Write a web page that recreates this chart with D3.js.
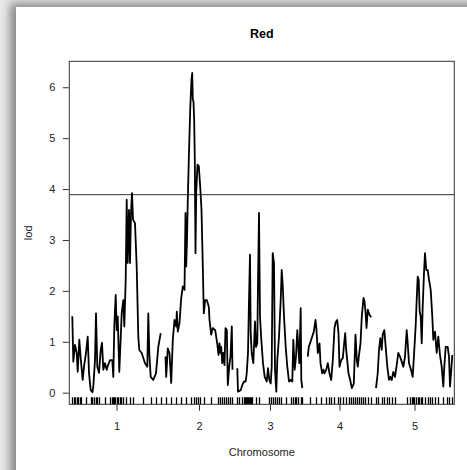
<!DOCTYPE html>
<html lang="en">
  <head>
    <meta charset="UTF-8" />
    <title>Red</title>
    <script src="https://d3js.org/d3.v7.min.js"></script>
    <style>
      body {
        margin: 0;
        width: 467px;
        height: 470px;
        overflow: hidden;
        background: #e9e9e9;
        font-family: "Liberation Sans", Arial, sans-serif;
      }

      .panel {
        position: absolute;
        left: 16px;
        top: 7px;
        width: 480px;
        height: 490px;
        background: #fff;
        box-shadow: -3px -1px 9px 3px rgba(0, 0, 0, 0.42);
      }

      #chart {
        position: absolute;
        left: 0;
        top: 0;
      }
    </style>
  </head>
  <body>
    <div class="panel"></div>
    <svg id="chart" width="467" height="470"></svg>

    <script>
      // LOD curve per chromosome: [position (cM), lod]
      const chr1 = [[0.3,1.50],[1.3,0.61],[3.0,0.94],[4.7,0.78],[5.7,0.41],[7.3,1.04],[8.7,0.68],[10.7,0.25],[12.0,0.51],[14.0,0.78],[15.7,1.10],[17.0,0.39],[18.7,0.05],[20.5,0.01],[21.3,0.12],[23.0,0.64],[24.0,1.56],[25.3,0.51],[27.0,0.39],[28.7,0.84],[30.0,0.98],[31.3,0.45],[33.0,0.58],[34.7,0.45],[36.0,0.54],[38.0,0.64],[40.3,0.64],[41.3,0.31],[42.3,1.30],[43.7,1.92],[44.7,1.23],[45.7,1.50],[47.3,0.41],[48.7,1.07],[49.7,1.56],[51.3,1.82],[52.3,1.30],[53.7,2.22],[54.7,3.79],[55.7,2.55],[57.0,3.59],[58.0,2.55],[59.0,3.53],[60.0,3.92],[61.0,3.40],[63.0,3.33],[64.7,2.48],[66.3,1.10],[67.3,0.84],[69.7,0.78],[73.0,0.58],[75.3,0.51],[76.3,1.56],[77.3,0.78],[78.7,0.31],[81.3,0.25],[84.0,0.38],[86.3,0.90],[88.7,1.17]];
      const chr2 = [[0.0,0.71],[0.7,0.31],[2.3,0.87],[4.0,0.78],[5.7,0.19],[7.3,1.04],[9.0,1.43],[10.7,1.30],[11.3,1.59],[12.3,1.20],[14.0,1.37],[15.7,1.86],[17.3,2.09],[19.0,2.02],[20.0,3.53],[20.7,2.48],[21.5,3.00],[22.3,3.79],[23.3,4.58],[24.7,5.56],[26.0,6.15],[26.7,6.28],[27.3,5.76],[28.0,5.72],[28.7,5.33],[29.3,4.58],[30.0,2.74],[30.7,3.93],[32.0,4.48],[33.3,4.45],[34.7,4.05],[36.0,3.59],[37.3,2.48],[38.3,1.56],[39.7,1.82],[41.3,1.82],[43.3,1.69],[44.0,1.43],[45.7,1.14],[47.3,1.27],[49.7,1.23],[51.7,0.97],[53.0,0.74],[54.0,0.97],[55.0,0.78],[55.7,0.90],[56.7,0.58],[57.7,0.78],[59.0,0.54],[60.0,1.27],[61.3,1.23],[62.3,0.15],[63.7,0.51],[65.0,0.71],[66.3,1.30],[67.0,0.45]];
      const chr3 = [[0.3,0.48],[1.0,0.02],[3.7,0.05],[5.3,0.15],[7.0,0.22],[8.7,0.22],[9.7,0.38],[11.0,0.78],[12.0,1.82],[13.0,2.71],[13.7,1.17],[14.7,0.78],[16.3,0.58],[18.0,1.40],[19.0,0.90],[20.3,0.97],[21.0,2.15],[22.0,3.53],[23.0,1.50],[24.3,1.04],[26.0,0.58],[27.7,0.31],[29.7,0.22],[31.0,0.48],[32.3,0.25],[33.7,0.18],[34.7,0.51],[35.7,2.74],[37.0,2.55],[38.0,0.45],[39.3,0.02],[40.3,0.64],[42.0,1.10],[43.7,1.82],[44.7,2.41],[45.7,2.12],[47.0,1.50],[48.7,0.90],[50.3,0.51],[52.0,0.22],[53.7,0.25],[55.3,0.22],[56.3,1.04],[57.7,0.45],[59.0,0.71],[60.3,1.23],[61.3,0.90],[62.3,0.58],[63.7,1.66],[64.3,0.25],[65.3,0.09]];
      const chr4 = [[0.3,0.71],[1.3,0.90],[3.7,1.04],[6.3,1.20],[8.0,1.43],[9.0,1.23],[10.3,0.78],[12.0,0.97],[13.0,0.58],[14.7,0.38],[16.0,0.45],[17.0,0.38],[18.7,0.45],[20.3,0.58],[22.0,0.38],[23.7,0.25],[25.3,0.64],[27.0,1.27],[28.3,1.39],[29.7,1.43],[31.0,1.17],[32.0,0.51],[33.7,0.64],[35.3,0.68],[37.0,1.04],[37.7,1.17],[38.7,0.84],[39.7,0.64],[41.0,0.38],[42.7,0.25],[44.3,0.09],[46.3,0.18],[48.0,1.14],[49.3,0.64],[50.3,0.51],[51.3,0.71],[53.0,0.97],[54.3,1.50],[56.0,1.86],[57.0,1.79],[58.0,1.59],[59.0,1.27],[60.3,1.63],[62.0,1.53],[63.7,1.48]];
      const chr5 = [[0.0,0.09],[1.7,0.38],[3.0,0.84],[4.3,1.07],[5.7,0.84],[6.7,1.14],[8.3,1.23],[9.7,0.90],[11.3,0.51],[13.0,0.25],[14.3,0.31],[15.7,0.25],[17.3,0.41],[19.0,0.31],[20.7,0.54],[22.3,0.78],[24.0,0.71],[25.7,0.61],[27.3,0.51],[29.0,0.71],[30.7,1.23],[31.7,0.97],[33.0,0.58],[35.0,0.45],[36.7,0.31],[38.3,0.84],[39.7,1.33],[40.7,1.82],[41.7,2.28],[42.7,2.22],[43.7,1.59],[44.7,1.50],[45.7,0.97],[46.7,1.69],[48.0,2.35],[49.0,2.74],[50.3,2.41],[51.7,2.41],[53.0,2.22],[54.7,2.02],[56.3,1.50],[57.3,1.04],[59.0,1.20],[60.7,0.78],[62.3,1.10],[64.0,0.74],[65.7,0.51],[67.3,0.12],[68.3,0.51],[69.7,0.90],[71.7,0.90],[73.0,0.71],[74.0,0.12],[75.3,0.45],[76.3,0.74]];

      // marker positions (cM) per chromosome
      const markers1 = [0,1.5,3,4.5,6,7.5,9,14,18.5,20,22,23.5,25,27,32.5,38,39.5,41,42,43,44.5,46,47.5,49,50.5,54,57.5,61,71,79,84,89];
      const markers2 = [0.3,5.3,10.3,15.3,20.3,25.3,28.7,30.7,32.3,34,39,45.7,52,54,56,58,60,62,64,66];
      const markers3 = [0,2,4.5,7,8,9,10,11,12,13,14,15,18.7,22,32,34,36,38,40,42,44,48.7,53.7,55.5,57.5,59.5,61.5,63.5,65];
      const markers4 = [2,8.7,13.7,18.7,21,23.5,26,30,32.5,35,38.7,41,43,45,47,49,51,53,55,57,60,63];
      const markers5 = [0,2,5.7,8,10.5,13,16,19,30.7,34,35.5,37,38.5,40,41.5,43,44.5,45.7,49,51.5,54,56.5,59,62,67,70.7,73,75.7];

      const chrNames = ["1", "2", "3", "4", "5"];
      const chrLengths = [89, 67, 66, 64, 77];
      const lodCurves = [chr1, chr2, chr3, chr4, chr5];
      const markerSets = [markers1, markers2, markers3, markers4, markers5];
      const yTicks = [0, 1, 2, 3, 4, 5, 6];
      const threshold = 3.89;
      const gap = 4.5;

      const box = { left: 69.3, right: 454.3, top: 61.3, bottom: 404.3 };
      const svg = d3.select("#chart");

      // cumulative chromosome offsets
      const offsets = [];
      let acc = 0;
      chrLengths.forEach((len) => {
        offsets.push(acc);
        acc += len + gap;
      });
      const total = acc - gap;

      const x = d3.scaleLinear().domain([-2.7, total + 1.3]).range([box.left, box.right]);
      const y = d3.scaleLinear().domain([-0.228, 6.51]).range([box.bottom, box.top]);

      const line = d3
        .line()
        .x((d) => d[0])
        .y((d) => y(d[1]));

      // threshold
      svg
        .append("line")
        .attr("x1", box.left)
        .attr("x2", box.right)
        .attr("y1", y(threshold))
        .attr("y2", y(threshold))
        .attr("stroke", "#333")
        .attr("stroke-width", 1);

      // curves
      lodCurves.forEach((pts, i) => {
        svg
          .append("path")
          .datum(pts.map((p) => [x(offsets[i] + p[0]), p[1]]))
          .attr("d", line)
          .attr("fill", "none")
          .attr("stroke", "#000")
          .attr("stroke-width", 1.8)
          .attr("stroke-linejoin", "round");
      });

      // rug of markers
      markerSets.forEach((ms, i) => {
        svg
          .append("g")
          .selectAll("line")
          .data(ms)
          .join("line")
          .attr("x1", (d) => Math.round(x(offsets[i] + d)) + 0.5)
          .attr("x2", (d) => Math.round(x(offsets[i] + d)) + 0.5)
          .attr("y1", box.bottom)
          .attr("y2", box.bottom - 7)
          .attr("stroke", "#000")
          .attr("stroke-width", 1.3);
      });

      // frame
      svg
        .append("rect")
        .attr("x", box.left)
        .attr("y", box.top)
        .attr("width", box.right - box.left)
        .attr("height", box.bottom - box.top)
        .attr("fill", "none")
        .attr("stroke", "#333")
        .attr("stroke-width", 1);

      // y axis
      const yAxis = d3.axisLeft(y).tickValues(yTicks).tickFormat(d3.format("d")).tickSize(6).tickPadding(10);
      const gy = svg.append("g").attr("transform", `translate(${box.left - 0.5},0)`).call(yAxis);
      gy.select(".domain").remove();
      gy.selectAll("text").attr("text-anchor", "middle").attr("x", -16.5).attr("font-size", 11).attr("fill", "#222").attr("font-family", "Liberation Sans, Arial, sans-serif");
      gy.selectAll("line").attr("stroke", "#333");

      // x axis at chromosome centres
      const centres = chrLengths.map((len, i) => offsets[i] + len / 2);
      const xAxis = d3
        .axisBottom(x)
        .tickValues(centres)
        .tickFormat((d, i) => chrNames[i])
        .tickSize(6)
        .tickPadding(11);
      const gx = svg.append("g").attr("transform", `translate(0,${box.bottom + 0.5})`).call(xAxis);
      gx.select(".domain").remove();
      gx.selectAll("text").attr("font-size", 11).attr("fill", "#222").attr("font-family", "Liberation Sans, Arial, sans-serif");
      gx.selectAll("line").attr("stroke", "#333");

      // labels
      const cx = (box.left + box.right) / 2;
      svg
        .append("text")
        .attr("x", cx)
        .attr("y", 38)
        .attr("text-anchor", "middle")
        .attr("font-size", 12.5)
        .attr("font-weight", "bold")
        .text("Red");

      svg
        .append("text")
        .attr("x", cx)
        .attr("y", 456)
        .attr("text-anchor", "middle")
        .attr("font-size", 11)
        .attr("fill", "#222")
        .text("Chromosome");

      svg
        .append("text")
        .attr("transform", `translate(32,${(box.top + box.bottom) / 2}) rotate(-90)`)
        .attr("text-anchor", "middle")
        .attr("font-size", 11)
        .attr("fill", "#222")
        .text("lod");
    </script>
  </body>
</html>
